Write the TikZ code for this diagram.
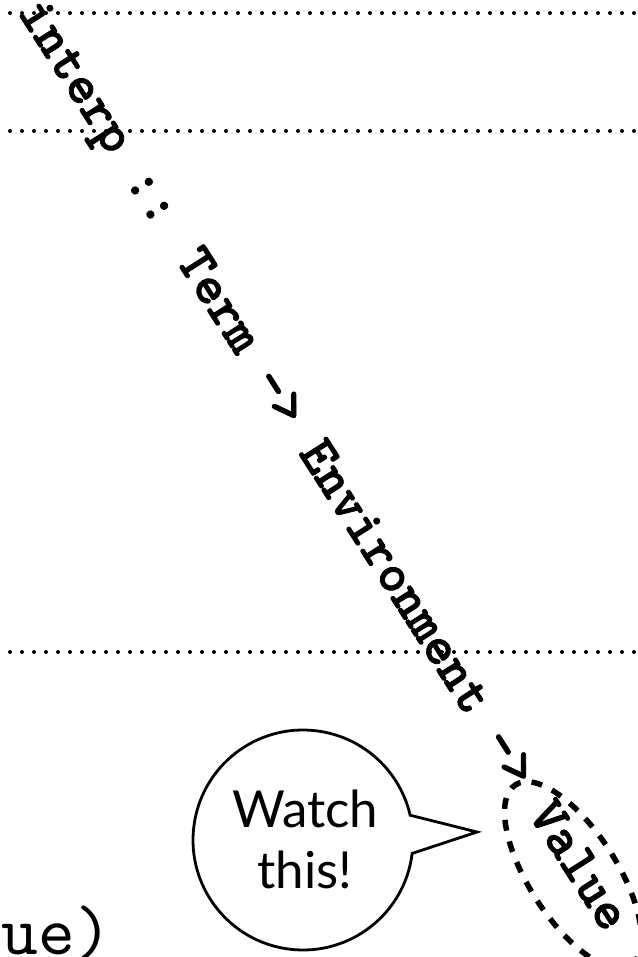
\documentclass[tikz,border=0pt]{standalone}
\usepackage{fontspec}
\setmainfont{Lato}
\newfontfamily\codefontb{lmmonolt10-bold}[Extension=.otf, FakeBold=1.5]
\newfontfamily\codefont{lmmono10-regular}[Extension=.otf]
\usetikzlibrary{shapes.geometric,calc}
\begin{document}
\begin{tikzpicture}[x=1bp,y=-1bp,
  dotline/.style={line width=4bp, line cap=round, dash pattern=on 0bp off 12bp},
  sigtext/.style={font=\codefontb\fontsize{54.3bp}{56bp}\selectfont, inner sep=0pt, anchor=base west, rotate=-57.5},
  valbox/.style={draw, ellipse, line width=5.5bp, dash pattern=on 11bp off 11bp, rotate=-57.5, minimum width=214bp, minimum height=88bp, inner sep=0pt},
  bubble/.style={draw, line width=2.8bp, line join=miter},
  bubbletext/.style={font=\fontsize{51bp}{61bp}\selectfont, align=center, inner sep=0pt},
  tailtext/.style={font=\codefont\fontsize{70bp}{72bp}\selectfont, anchor=base east, inner sep=0pt}]
\useasboundingbox (0,0) rectangle (638,957);
% dotted rules
\draw[dotline] (10,13) -- (638,13);
\draw[dotline] (10,131) -- (638,131);
\draw[dotline] (10,652) -- (638,652);
% signature
\node[sigtext] (sig) at (17,12) {interp :: Term -> Environment -> Value};
% dashed ellipse around Value
\node[valbox] (val) at (573,875) {};
% speech bubble
\coordinate (bc) at (303,840);
\coordinate (tip) at (477,832);
\draw[bubble] ($(bc)+(-13:110)$) -- (tip) -- ($(bc)+(7:110)$) arc[start angle=7, end angle=347, radius=110] -- cycle;
\node[bubbletext] (watch) at (305,839) {Watch\\this!};
% cut-off code at bottom
\node[tailtext] (tail) at (112,954) {ue)};
\end{tikzpicture}
\end{document}
